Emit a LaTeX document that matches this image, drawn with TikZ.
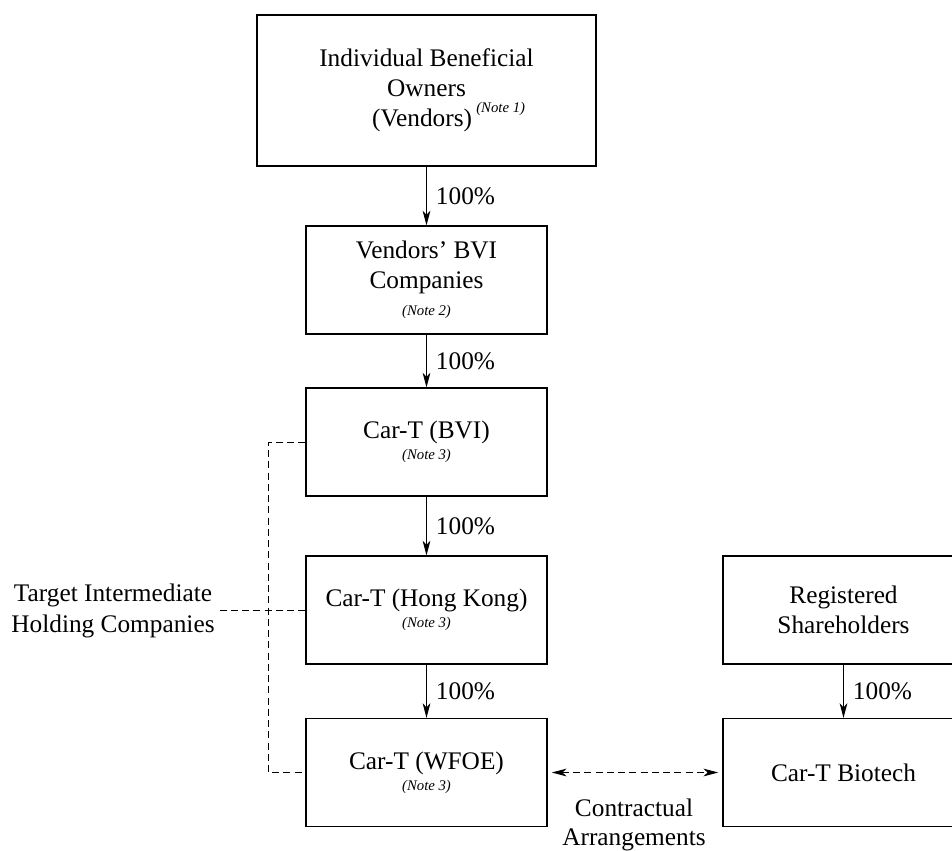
\documentclass[tikz,border=0pt]{standalone}
\usepackage{fontspec}
\setmainfont{Liberation Serif}
\usepackage{tikz}
\usetikzlibrary{arrows.meta}

\newcommand{\notetext}[1]{{\fontsize{10.5}{12}\selectfont\itshape #1}}

\tikzset{
  company/.style={draw,line width=0.8pt,align=center,minimum width=6.025cm,minimum height=2.7cm,inner sep=0pt},
  owns/.style={line width=0.8pt,-{Stealth[length=10.5pt,width=5.5pt,inset=3pt]}},
  pct/.style={midway,right,xshift=3pt},
  linkline/.style={line width=0.6pt,dash pattern=on 5pt off 3pt}
}

\begin{document}
\begin{tikzpicture}[x=0.025cm,y=-0.025cm,font=\fontsize{18}{21.5}\selectfont]
  \clip (0,0) rectangle (952,850);

  \node[company,minimum width=8.475cm,minimum height=3.775cm] (owners) at (426.5,90.5)
    {Individual Beneficial\\Owners\\\hspace*{1.75em}(Vendors)\,\raisebox{10pt}{\notetext{(Note 1)}}};
  \node[company] (vbvi) at (426.5,280) {Vendors' BVI\\Companies\\[-2.2pt]\notetext{(Note 2)}};
  \node[company] (cbvi) at (426.5,442) {Car-T (BVI)\\[-6.5pt]\notetext{(Note 3)}};
  \node[company] (chk) at (426.5,610) {Car-T (Hong Kong)\\[-6.5pt]\notetext{(Note 3)}};
  \node[company] (wfoe) at (426.5,772.5) {Car-T (WFOE)\\[-6.5pt]\notetext{(Note 3)}};
  \node[company] (regs) at (843.5,610) {Registered\\Shareholders};
  \node[company] (biotech) at (843.5,772.5) {Car-T Biotech};

  \draw[owns] (owners) -- (vbvi) node[pct] {100\%};
  \draw[owns] (vbvi) -- (cbvi) node[pct] {100\%};
  \draw[owns] (cbvi) -- (chk) node[pct] {100\%};
  \draw[owns] (chk) -- (wfoe) node[pct] {100\%};
  \draw[owns] (regs) -- (biotech) node[pct] {100\%};

  % target intermediate holding companies
  \node[align=center] (tihc) at (113,611) {Target Intermediate\\Holding Companies};
  \draw[linkline] (cbvi.west) -- ++(-37,0) |- (wfoe.west);
  \draw[linkline] (chk.west -| tihc.east) -- (chk.west);

  % contractual arrangements
  \draw[linkline,{Stealth[length=10.5pt,width=5.5pt,inset=3pt]}-{Stealth[length=10.5pt,width=5.5pt,inset=3pt]},shorten <=3pt,shorten >=3pt]
    (wfoe.east) -- (biotech.west);
  \node[align=center,font=\fontsize{18}{20.5}\selectfont] (contract) at (634,825) {Contractual\\Arrangements};
\end{tikzpicture}
\end{document}
